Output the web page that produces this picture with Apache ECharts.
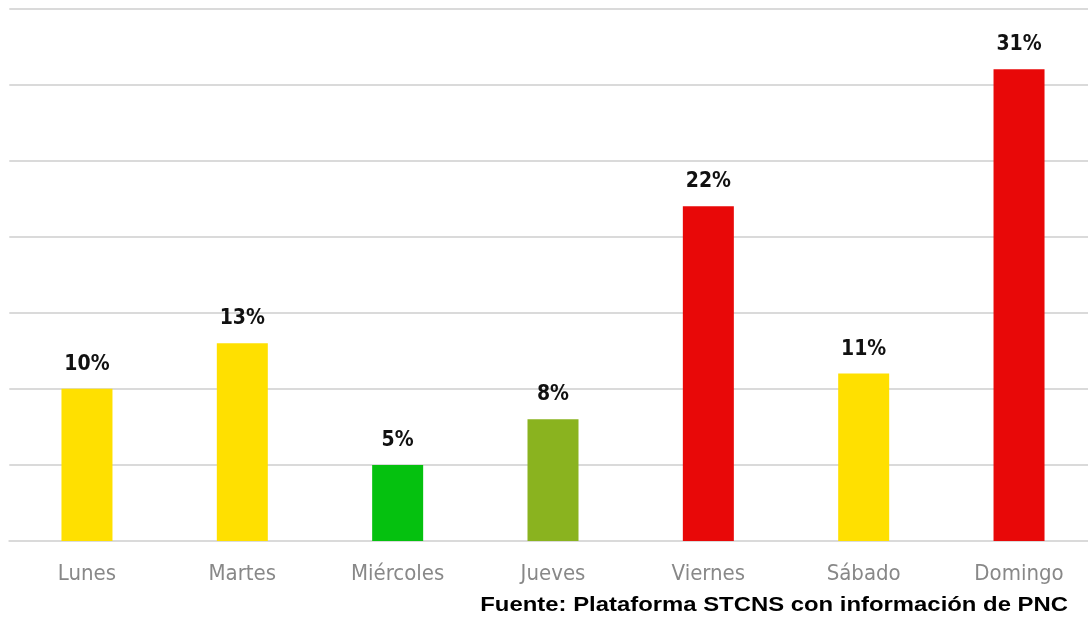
<!DOCTYPE html>
<html><head><meta charset="utf-8">
<script src="https://cdn.jsdelivr.net/npm/echarts@6/dist/echarts.min.js"></script>
<style>html,body{margin:0;padding:0;background:#fff}#c{width:1088px;height:619px}</style>
</head><body><div id="c"></div>
<script>
const categories = ['Lunes','Martes','Miércoles','Jueves','Viernes','Sábado','Domingo'];
const values = [10, 13, 5, 8, 22, 11, 31];
const barColors = ['#FFE000','#FFE000','#05C10F','#8AB31F','#E80808','#FFE000','#E80808'];
const sourceText = 'Fuente: Plataforma STCNS con información de PNC';

const chart = echarts.init(document.getElementById('c'), null, {renderer:'canvas'});
chart.setOption({
  animation:false,
  grid:{left:9.3, top:8.3, right:-8.7, bottom:78, containLabel:false, outerBoundsMode:'none'},
  xAxis:{type:'category', data:categories,
    axisLine:{show:true, lineStyle:{color:'#dadada', width:2}},
    axisTick:{show:false},
    axisLabel:{color:'#888888', fontFamily:'DejaVu Sans Condensed', fontSize:22, margin:22, interval:0}
  },
  yAxis:{type:'value', min:0, max:35, interval:5,
    axisLabel:{show:false}, axisLine:{show:false}, axisTick:{show:false},
    splitLine:{lineStyle:{color:'#dadada', width:2}}
  },
  series:[{type:'bar', barWidth:51,
    data: values.map((v,i)=>({value:v, itemStyle:{color:barColors[i]}})),
    label:{show:true, position:'top', distance:14, formatter:'{c}%',
      color:'#111', fontFamily:'DejaVu Sans Condensed', fontWeight:'bold', fontSize:21}
  }],
  graphic:[{type:'text', x:1068, y:595, scaleX:1.137, originX:0, originY:0,
    style:{text:sourceText, fill:'#000', align:'right', verticalAlign:'top',
      font:'bold 21px "Liberation Sans", Arial, sans-serif'}}]
});
</script></body></html>
